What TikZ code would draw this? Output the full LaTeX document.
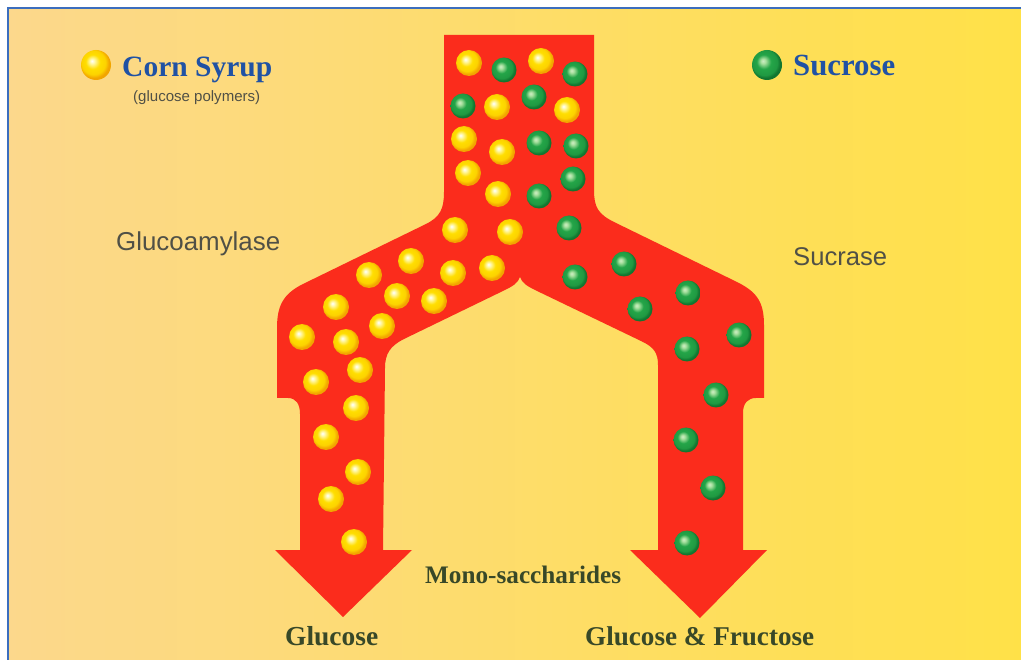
\documentclass[tikz,border=0pt]{standalone}
\usepackage{fontspec}
\setmainfont{Liberation Serif}
\newfontfamily\labsans{Liberation Sans}
\definecolor{bgL}{RGB}{252,216,140}
\definecolor{bgM}{RGB}{254,221,104}
\definecolor{bgR}{RGB}{255,225,72}
\definecolor{frameblue}{RGB}{60,110,190}
\definecolor{arrowred}{RGB}{251,44,28}
\definecolor{titleblue}{RGB}{32,82,164}
\definecolor{graytext}{RGB}{80,80,70}
\definecolor{olivetext}{RGB}{56,72,40}
\definecolor{yhi}{RGB}{255,248,170}
\definecolor{ymain}{RGB}{255,222,0}
\definecolor{yedge}{RGB}{242,165,0}
\definecolor{ghi}{RGB}{170,225,160}
\definecolor{gmain}{RGB}{36,165,72}
\definecolor{gedge}{RGB}{18,118,48}
\pgfdeclareradialshading{yballsh}{\pgfqpoint{-7bp}{7bp}}{color(0bp)=(white); color(4bp)=(yhi); color(12bp)=(ymain); color(20bp)=(ymain!80!yedge); color(25bp)=(yedge); color(50bp)=(yedge)}
\pgfdeclareradialshading{gballsh}{\pgfqpoint{-7bp}{7bp}}{color(0bp)=(ghi!60!white); color(4bp)=(ghi); color(12bp)=(gmain); color(21bp)=(gmain!75!gedge); color(25bp)=(gedge); color(50bp)=(gedge)}
\newcommand\fitw[2]{\resizebox{#1}{!}{#2}}
\tikzset{
  yball/.style={shading=yballsh},
  gball/.style={shading=gballsh},
  titlelab/.style={anchor=base west, inner sep=0pt, text=titleblue, font=\bfseries},
  sanslab/.style={anchor=base west, inner sep=0pt, text=graytext, font=\labsans},
  botlab/.style={anchor=base west, inner sep=0pt, text=olivetext, font=\bfseries},
}
\begin{document}
\begin{tikzpicture}[x=1pt,y=-1pt]
\useasboundingbox (0,0) rectangle (1021,660);
\fill[white] (0,0) rectangle (1021,660);
\shade[left color=bgL, middle color=bgM, right color=bgR] (8,8) rectangle (1021,660);
\draw[frameblue, line width=2pt] (8,660) -- (8,8) -- (1021,8);
% branching arrow
\fill[arrowred] (444,35) -- (594,35) -- (594,190)
  .. controls (594,207) and (598,214) .. (614,222) -- (737,282)
  .. controls (757,292) and (764,302) .. (764,325) -- (764,398) -- (756,398)
  .. controls (748,398) and (743,403) .. (743,413) -- (743,550) -- (767,550)
  -- (700,618) -- (630,550) -- (658,550) -- (658,365)
  .. controls (658,353) and (654,347) .. (641,341) -- (535,290)
  .. controls (527,286) and (522,283) .. (520,277)
  .. controls (518,283) and (513,286) .. (505,290) -- (404,339)
  .. controls (390,346) and (385,354) .. (385,368) -- (383,550) -- (412,550)
  -- (343,617) -- (275,550) -- (300,550) -- (300,414)
  .. controls (300,404) and (296,398) .. (288,398) -- (277,398) -- (277,328)
  .. controls (277,306) and (283,294) .. (303,284) -- (426,224)
  .. controls (440,217) and (444,209) .. (444,192) -- cycle;
% yellow balls
\foreach \p in {(469,63),(541,61),(497,107),(567,110),(464,139),(502,152),(468,173),(498,194),(455,230),(510,232),(411,261),(369,275),(453,273),(492,268),(336,307),(397,296),(434,301),(302,337),(346,342),(382,326),(316,382),(360,370),(356,408),(326,437),(358,472),(331,499),(354,542)}
  \shade[yball] \p circle (13);
% green balls
\foreach \p in {(504,70),(575,74),(463,106),(534,97),(539,143),(576,146),(573,179),(539,196),(569,228),(575,277),(624,264),(688,293),(640,309),(739,335),(687,349),(716,395),(686,440),(713,488),(687,543)}
  \shade[gball] \p circle (12.5);
% legend
\shade[yball] (96,65) circle (15);
\shade[gball] (767,65) circle (15);
\node[titlelab] (corn) at (122,77) {\fitw{150pt}{Corn Syrup}};
\node[sanslab] (poly) at (133,102) {\fitw{127pt}{(glucose polymers)}};
\node[titlelab] (sucrose) at (793,76) {\fitw{102pt}{Sucrose}};
\node[sanslab] (glucoam) at (116,251) {\fitw{164pt}{Glucoamylase}};
\node[sanslab] (sucrase) at (793,266) {\fitw{94pt}{Sucrase}};
\node[botlab] (mono) at (425,583) {\fitw{196pt}{Mono-saccharides}};
\node[botlab] (glc) at (285,645) {\fitw{93pt}{Glucose}};
\node[botlab] (glcfru) at (585,645) {\fitw{229pt}{Glucose \& Fructose}};
\end{tikzpicture}
\end{document}
